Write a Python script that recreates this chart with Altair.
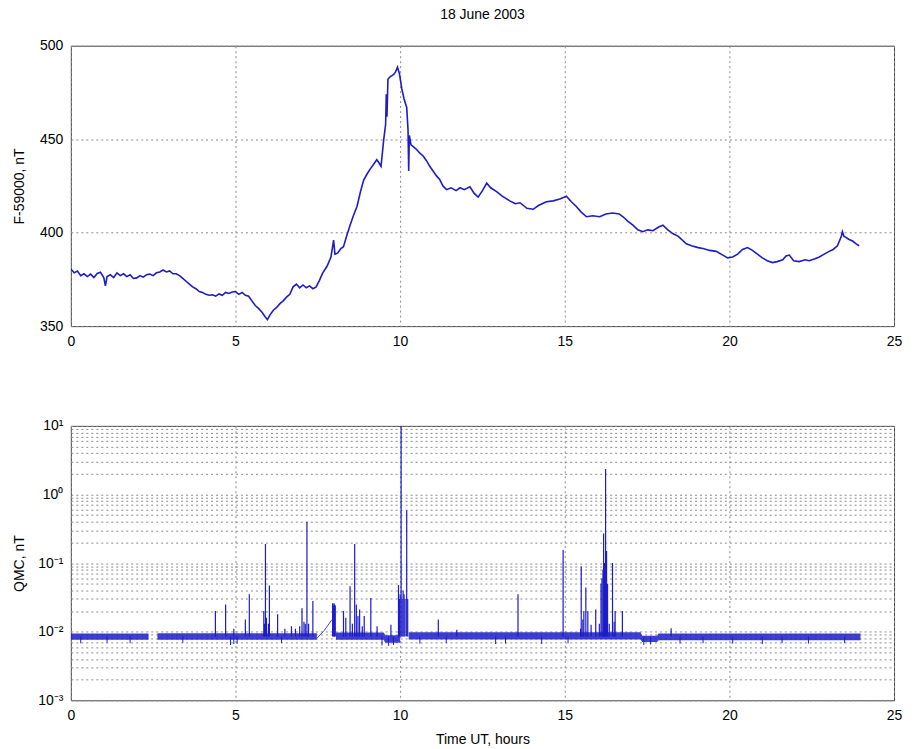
import altair as alt
import pandas as pd

BLUE = "#1c1cc8"
FONT = "Liberation Sans"

# ---------------- top panel: F - 59000 nT ----------------
f_hours = [0.00, 0.10, 0.20, 0.30, 0.40, 0.50, 0.60, 0.70, 0.80, 0.90, 1.00, 1.05, 1.10, 1.20, 1.30,
           1.40, 1.50, 1.60, 1.70, 1.80, 1.90, 2.00, 2.10, 2.20, 2.30, 2.40, 2.50, 2.60, 2.70, 2.80,
           2.90, 3.00, 3.10, 3.20, 3.30, 3.40, 3.50, 3.60, 3.70, 3.80, 3.90, 4.00, 4.10, 4.20, 4.30,
           4.40, 4.50, 4.60, 4.70, 4.80, 4.90, 5.00, 5.10, 5.20, 5.30, 5.40, 5.50, 5.60, 5.70, 5.80,
           5.90, 5.97, 6.05, 6.15, 6.25, 6.35, 6.45, 6.55, 6.65, 6.75, 6.85, 6.95, 7.05, 7.15, 7.25,
           7.35, 7.45, 7.55, 7.65, 7.78, 7.90, 7.98, 8.02, 8.10, 8.20, 8.28, 8.38, 8.48, 8.58, 8.69,
           8.79, 8.89, 9.00, 9.09, 9.19, 9.29, 9.35, 9.42, 9.50, 9.56, 9.58, 9.60, 9.63, 9.70, 9.80,
           9.86, 9.92, 9.98, 10.05, 10.12, 10.20, 10.24, 10.26, 10.28, 10.33, 10.40, 10.50, 10.60, 10.70,
           10.80, 10.90, 11.00, 11.10, 11.20, 11.30, 11.41, 11.55, 11.70, 11.82, 11.95, 12.12, 12.25, 12.37,
           12.50, 12.63, 12.75, 12.93, 13.10, 13.33, 13.50, 13.64, 13.85, 14.04, 14.20, 14.44, 14.65, 14.85,
           15.05, 15.20, 15.35, 15.50, 15.66, 15.85, 16.06, 16.25, 16.46, 16.65, 16.77, 16.92, 17.07, 17.22,
           17.37, 17.52, 17.68, 17.85, 17.98, 18.13, 18.28, 18.45, 18.69, 18.85, 19.05, 19.20, 19.40, 19.60,
           19.80, 19.95, 20.10, 20.25, 20.40, 20.55, 20.70, 20.85, 21.00, 21.15, 21.31, 21.45, 21.62, 21.72,
           21.82, 21.95, 22.12, 22.30, 22.42, 22.60, 22.73, 22.88, 23.03, 23.15, 23.28, 23.40, 23.43, 23.48,
           23.54, 23.62, 23.74, 23.85, 23.94]
f_values = [380.5, 378.5, 379.5, 377.0, 378.0, 376.5, 377.8, 376.0, 378.2, 378.8, 376.0, 371.5, 376.5, 377.5, 376.0,
            378.5, 377.0, 378.0, 376.5, 377.5, 375.5, 375.8, 377.0, 376.2, 377.5, 377.8, 377.0, 378.5, 379.0, 380.0,
            379.0, 379.5, 378.0, 378.0, 377.0, 375.5, 374.0, 372.5, 371.0, 370.0, 368.5, 368.0, 367.0, 366.5, 366.8,
            366.0, 367.2, 366.5, 368.0, 367.5, 368.2, 368.5, 367.0, 368.0, 366.5, 366.0, 363.5, 361.0, 359.5, 357.5,
            355.0, 353.5, 356.0, 358.5, 360.0, 362.0, 363.5, 365.5, 367.0, 371.0, 372.5, 370.5, 372.0, 370.5, 371.5,
            370.0, 371.0, 374.5, 378.5, 382.0, 387.0, 396.0, 388.5, 389.0, 391.5, 392.5, 398.5, 404.0, 409.0, 414.0,
            421.5, 428.0, 431.5, 434.0, 436.5, 439.0, 437.5, 435.5, 449.5, 458.0, 474.0, 462.0, 482.0, 483.5, 484.5,
            486.0, 488.5, 485.0, 477.0, 471.5, 467.0, 455.0, 433.0, 452.0, 447.0, 446.0, 444.5, 442.5, 441.0,
            438.5, 435.5, 433.0, 430.5, 428.5, 425.0, 423.0, 424.0, 422.5, 424.0, 423.0, 424.5, 421.0, 419.0,
            422.5, 426.5, 424.0, 422.0, 419.5, 417.0, 415.5, 416.0, 413.0, 412.5, 414.5, 416.5, 417.0, 418.0,
            419.5, 416.5, 414.0, 411.0, 408.5, 409.0, 408.5, 410.0, 410.5, 410.0, 408.5, 406.0, 404.0, 401.5,
            400.5, 401.5, 401.0, 403.0, 404.0, 401.5, 399.5, 398.0, 394.0, 393.0, 392.0, 391.5, 390.5, 390.0,
            388.0, 386.5, 387.0, 388.5, 391.0, 392.0, 390.5, 388.5, 386.5, 385.0, 384.0, 384.5, 385.5, 387.5,
            388.0, 385.0, 384.5, 385.5, 385.0, 386.0, 387.0, 388.5, 390.0, 391.0, 393.0, 398.0, 400.5, 398.0,
            397.5, 396.5, 395.5, 394.0, 393.0]

# ---------------- bottom panel: QMC, nT (log) ----------------
# thick noisy baseline band of the QMC record
band_hours = [0.00, 2.36, 2.63, 7.47, 8.05, 9.50, 9.55, 10.00, 10.26, 17.30, 17.35, 17.80, 17.85, 23.98]
band_lo = [0.0076, 0.0076, 0.0076, 0.0076, 0.0076, 0.0076, 0.0069, 0.0069, 0.0077, 0.0077, 0.0071, 0.0071, 0.0075, 0.0075]
band_hi = [0.0094, 0.0094, 0.0095, 0.0095, 0.0097, 0.0097, 0.0089, 0.0089, 0.0098, 0.0098, 0.0087, 0.0087, 0.0094, 0.0094]
band_seg = [0, 0, 1, 1, 2, 2, 2, 2, 3, 3, 3, 3, 3, 3]

# thin line across the data gap 7.5-7.9 h
link_hours = [7.47, 7.70, 7.93]
link_values = [0.0080, 0.0105, 0.0150]

# spikes rising from the baseline
qmc_base = 0.0085
spike_hours = [4.39, 4.70, 4.95, 5.30, 5.42, 5.86, 5.88, 5.91, 5.94, 6.00, 6.03, 6.28, 6.50, 6.70,
               6.82, 6.95, 7.02, 7.08, 7.12, 7.17, 7.22, 7.35, 7.95, 7.97, 7.99, 8.01, 8.03, 8.28,
               8.35, 8.48, 8.55, 8.62, 8.67, 8.72, 8.77, 8.85, 8.91, 9.11, 9.30, 9.72, 9.95, 9.98,
               10.00, 10.03, 10.06, 10.09, 10.12, 10.15, 10.20, 10.23, 11.16, 11.72, 13.58, 14.95, 15.48, 15.50,
               15.55, 15.58, 15.64, 15.70, 15.80, 15.94, 16.05, 16.10, 16.13, 16.16, 16.18, 16.21, 16.24, 16.27,
               16.30, 16.35, 16.45, 16.50, 16.53, 16.75, 18.23]
spike_tops = [0.020, 0.025, 0.011, 0.015, 0.035, 0.020, 0.013, 0.19, 0.016, 0.013, 0.047, 0.018, 0.011, 0.012,
              0.011, 0.012, 0.022, 0.014, 0.013, 0.40, 0.013, 0.028, 0.026, 0.024, 0.026, 0.025, 0.024, 0.020,
              0.016, 0.046, 0.013, 0.19, 0.025, 0.017, 0.021, 0.012, 0.017, 0.031, 0.012, 0.0126, 0.048, 0.030,
              0.035, 10.0, 0.030, 0.040, 0.035, 0.030, 0.59, 0.030, 0.015, 0.0107, 0.035, 0.155, 0.011, 0.089,
              0.015, 0.020, 0.044, 0.020, 0.0126, 0.021, 0.013, 0.050, 0.060, 0.080, 0.27, 0.10, 2.36, 0.15,
              0.050, 0.013, 0.10, 0.014, 0.020, 0.020, 0.0112]

# short downward noise ticks below the baseline
dip_hours = [0.30, 1.10, 1.80, 3.40, 4.85, 4.95, 5.05, 6.40, 9.45, 9.65, 9.80, 10.60, 11.40, 12.90,
             13.20, 14.30, 15.10, 17.40, 17.60, 18.50, 19.20, 20.10, 21.00, 21.60, 22.40, 23.50]
dip_values = [0.0068, 0.0069, 0.0068, 0.0069, 0.0064, 0.0066, 0.0067, 0.0068, 0.0063, 0.0062, 0.0064, 0.0067, 0.0068, 0.0066,
              0.0067, 0.0066, 0.0068, 0.0064, 0.0065, 0.0067, 0.0068, 0.0067, 0.0066, 0.0068, 0.0067, 0.0068]

# ---------------- axes ----------------
x_ticks = [0, 5, 10, 15, 20, 25]
f_ticks = [350, 400, 450, 500]
qmc_grid = [0.001, 0.002, 0.003, 0.004, 0.005, 0.006, 0.007, 0.008, 0.009,
            0.01, 0.02, 0.03, 0.04, 0.05, 0.06, 0.07, 0.08, 0.09,
            0.1, 0.2, 0.3, 0.4, 0.5, 0.6, 0.7, 0.8, 0.9,
            1, 2, 3, 4, 5, 6, 7, 8, 9, 10]
qmc_decades = [0.001, 0.01, 0.1, 1, 10]
qmc_decade_labels = ["10⁻³", "10⁻²", "10⁻¹", "10⁰", "10¹"]

label_expr = "".join(
    f"datum.value == {v} ? '{t}' : " for v, t in zip(qmc_decades, qmc_decade_labels)
) + "''"

df_f = pd.DataFrame({"h": f_hours, "v": f_values})
df_b = pd.DataFrame({"h": band_hours, "lo": band_lo, "hi": band_hi, "seg": band_seg})
df_l = pd.DataFrame({"h": link_hours, "v": link_values})
df_s = pd.DataFrame({"h": spike_hours, "top": spike_tops, "base": [qmc_base] * len(spike_hours)})
df_d = pd.DataFrame({"h": dip_hours, "low": dip_values, "base": [qmc_base] * len(dip_hours)})

x_scale = alt.Scale(domain=[0, 25], nice=False, zero=False)

top = alt.Chart(df_f).mark_line(color=BLUE, strokeWidth=1.6, clip=True).encode(
    x=alt.X("h:Q", scale=x_scale,
            axis=alt.Axis(values=x_ticks, title=None)),
    y=alt.Y("v:Q", scale=alt.Scale(domain=[350, 500], nice=False, zero=False),
            axis=alt.Axis(values=f_ticks, title="F-59000, nT", titleX=-44)),
).properties(
    width=825, height=281,
    title=alt.TitleParams("18 June 2003", fontSize=14, font=FONT, fontWeight="normal",
                          color="black", anchor="middle", frame="group", offset=17),
)

y_log = alt.Scale(type="log", domain=[0.001, 10], nice=False)

band = alt.Chart(df_b).mark_area(color=BLUE, opacity=0.85, clip=True).encode(
    x=alt.X("h:Q", scale=x_scale,
            axis=alt.Axis(values=x_ticks, title="Time UT, hours", titleY=32)),
    y=alt.Y("lo:Q", scale=y_log,
            axis=alt.Axis(values=qmc_grid, labelExpr=label_expr, title="QMC, nT", titleX=-44)),
    y2="hi:Q",
    detail="seg:N",
)

link = alt.Chart(df_l).mark_line(color=BLUE, strokeWidth=0.8, clip=True).encode(
    x=alt.X("h:Q", scale=x_scale),
    y=alt.Y("v:Q", scale=y_log),
)

spikes = alt.Chart(df_s).mark_rule(color=BLUE, strokeWidth=1.2, clip=True).encode(
    x=alt.X("h:Q", scale=x_scale),
    y=alt.Y("base:Q", scale=y_log),
    y2="top:Q",
)

dips = alt.Chart(df_d).mark_rule(color=BLUE, strokeWidth=1, clip=True).encode(
    x=alt.X("h:Q", scale=x_scale),
    y=alt.Y("base:Q", scale=y_log),
    y2="low:Q",
)

bottom = alt.layer(band, link, dips, spikes).properties(width=825, height=275)

chart = alt.vconcat(top, bottom, spacing=100, bounds="flush").properties(
    padding={"left": 12, "top": 6, "right": 11, "bottom": 3},
    background="white",
).configure_view(
    stroke="#444444", strokeWidth=1
).configure_axis(
    labelFont=FONT, labelFontSize=14, labelColor="black",
    titleFont=FONT, titleFontSize=14, titleFontWeight="normal", titleColor="black",
    grid=True, gridColor="#8a8a8a", gridDash=[2, 3], gridWidth=1, gridOpacity=1,
    domain=False, ticks=False, labelPadding=8, labelFlush=False, labelOverlap=False,
)

chart.save("out.html", embed_options={"renderer": "svg", "actions": False})
